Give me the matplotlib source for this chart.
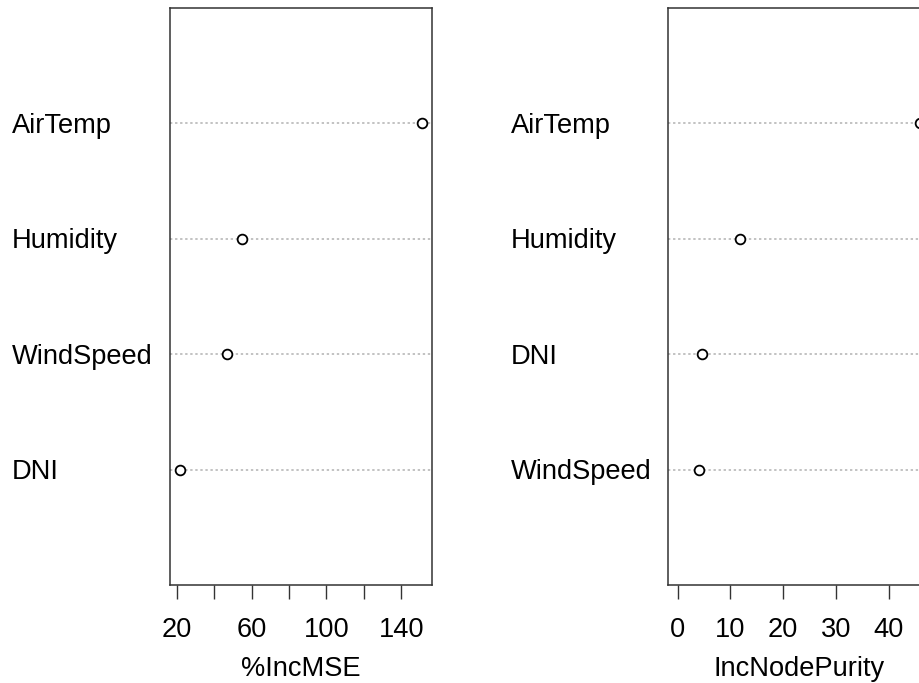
import matplotlib
matplotlib.use("Agg")
import matplotlib.pyplot as plt
from matplotlib.transforms import blended_transform_factory, offset_copy

plt.rcParams['font.family'] = ['Liberation Sans', 'DejaVu Sans']

# Random forest variable importance (bottom-to-top order)
mse_vars = ["DNI", "WindSpeed", "Humidity", "AirTemp"]
mse_vals = [21.7, 47.0, 54.9, 151.1]

purity_vars = ["WindSpeed", "DNI", "Humidity", "AirTemp"]
purity_vals = [4.0, 4.6, 11.85, 46.0]

mse_ticks = [20, 40, 60, 80, 100, 120, 140]
mse_ticklabels = ["20", "", "60", "", "100", "", "140"]
purity_ticks = [0, 10, 20, 30, 40]
purity_ticklabels = ["0", "10", "20", "30", "40"]

W, H = 919, 683
fig = plt.figure(figsize=(W / 100, H / 100), dpi=100)
FS = 19.6


def panel(left_px, label_px, names, vals, xmin, ticks, ticklabels, xlabel):
    ax = fig.add_axes([left_px / W, (H - 585) / H, 262 / W, 577 / H])
    n = len(vals)
    ys = list(range(1, n + 1))
    lo = xmin if xmin is not None else min(vals)
    hi = max(vals)
    pad = 0.04 * (hi - lo)
    ax.set_xlim(lo - pad, hi + pad)
    ax.set_ylim(0, n + 1)
    for y in ys:
        ax.axhline(y, color="#bdbdbd", lw=1.3, linestyle=(0, (1.3, 1.5)), zorder=1)
    ax.plot(vals, ys, linestyle="none", marker="o", markersize=7,
            markerfacecolor="white", markeredgecolor="black",
            markeredgewidth=1.3, zorder=3, clip_on=False)
    ax.set_yticks([])
    ax.set_xticks(ticks)
    ax.set_xticklabels(ticklabels)
    ax.tick_params(axis="x", direction="out", length=10, width=1.0,
                   color="#333333", labelsize=FS, pad=13)
    for s in ax.spines.values():
        s.set_linewidth(1.1)
        s.set_color("#333333")
    # variable names, left-aligned at a fixed offset
    tr = blended_transform_factory(fig.transFigure, ax.transData)
    tr = offset_copy(tr, fig=fig, y=-6.9, units="points")
    for y, name in zip(ys, names):
        fig.text(label_px / W, y, name, transform=tr, ha="left",
                 va="baseline", fontsize=FS, color="black")
    trx = blended_transform_factory(ax.transAxes, fig.transFigure)
    ax.text(0.5, (H - 676) / H, xlabel, transform=trx, ha="center",
            va="baseline", fontsize=FS, color="black")
    return ax


panel(170, 12, mse_vars, mse_vals, None, mse_ticks, mse_ticklabels, "%IncMSE")
panel(668, 511, purity_vars, purity_vals, 0, purity_ticks, purity_ticklabels,
      "IncNodePurity")

fig.savefig("out.png", dpi=100)
